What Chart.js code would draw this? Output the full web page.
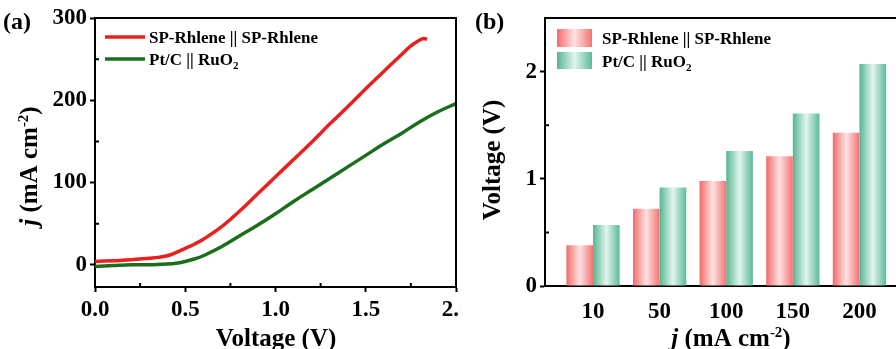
<!DOCTYPE html>
<html>
<head>
<meta charset="utf-8">
<script src="https://cdn.jsdelivr.net/npm/chart.js@4"></script>
<style>
  html, body { margin: 0; padding: 0; background: #fff; }
  #wrap { position: relative; width: 896px; height: 349px; overflow: hidden; }
  #cA { position: absolute; left: 0; top: 0; }
  #cB { position: absolute; left: 460px; top: 0; }
</style>
</head>
<body>
<div id="wrap">
  <canvas id="cA" width="460" height="349"></canvas>
  <canvas id="cB" width="436" height="349"></canvas>
</div>
<script>
// (a) polarisation curves
const voltSP = [0, 0.1, 0.2, 0.3, 0.35, 0.4, 0.45, 0.5, 0.55, 0.6, 0.7, 0.8, 0.9, 1.0, 1.1, 1.2, 1.3, 1.4, 1.5, 1.6, 1.7, 1.75, 1.79, 1.82, 1.84];
const curSP  = [4, 5, 6, 8, 9, 11, 15, 20, 25, 31, 46, 65, 86, 107, 128, 149, 171, 192, 214, 235, 256, 266, 272, 275, 274];
const voltPt = [0, 0.1, 0.2, 0.3, 0.4, 0.45, 0.5, 0.55, 0.6, 0.7, 0.8, 0.9, 1.0, 1.1, 1.2, 1.3, 1.4, 1.5, 1.6, 1.7, 1.8, 1.9, 2.0];
const curPt  = [-2, -1, 0, 0, 1, 2, 4, 7, 11, 22, 35, 48, 62, 77, 91, 105, 119, 133, 147, 160, 174, 186, 196];
const xTicksA = [0, 0.5, 1.0, 1.5, 2.0];
const yTicksA = [0, 100, 200, 300];

// (b) voltage at given current density
const cats = ['10', '50', '100', '150', '200'];
const barSP = [0.38, 0.72, 0.98, 1.21, 1.43];
const barPt = [0.57, 0.92, 1.26, 1.61, 2.07];
const yTicksB = [0, 1, 2];

const names = ['SP-Rhlene || SP-Rhlene', 'Pt/C || RuO'];
const SERIF = '"Liberation Serif", "Times New Roman", serif';
const tickFont = { family: SERIF, size: 23, weight: 'bold' };
const redStops = [[0, '#f26a6a'], [0.5, '#ffe2e2'], [1, '#f37373']];
const greenStops = [[0, '#55b593'], [0.5, '#e2f5ed'], [1, '#5cba99']];

Chart.defaults.color = '#000';
Chart.defaults.font.family = SERIF;

// draw a row of text pieces with different fonts
function richText(ctx, parts, x, y, align) {
  let w = 0;
  parts.forEach(p => { ctx.font = p.f; w += ctx.measureText(p.t).width; });
  let cx = align === 'center' ? x - w / 2 : x;
  ctx.textAlign = 'left';
  ctx.textBaseline = 'alphabetic';
  parts.forEach(p => {
    ctx.font = p.f;
    ctx.fillText(p.t, cx, y + (p.dy || 0));
    cx += ctx.measureText(p.t).width;
  });
}
const B = s => 'bold ' + s + 'px ' + SERIF;
const BI = s => 'italic bold ' + s + 'px ' + SERIF;
const jTitle = [{ t: 'j', f: BI(25) }, { t: ' (mA cm', f: B(25) }, { t: '-2', f: B(15), dy: -9 }, { t: ')', f: B(25) }];

function minorTicks(ctx, scale, vals, horiz, area) {
  ctx.beginPath();
  vals.forEach(v => {
    const p = scale.getPixelForValue(v);
    if (horiz) { ctx.moveTo(p, area.bottom); ctx.lineTo(p, area.bottom - 4); }
    else { ctx.moveTo(area.left, p); ctx.lineTo(area.left + 4, p); }
  });
  ctx.stroke();
}
function mids(arr) { return arr.slice(1).map((v, i) => (v + arr[i]) / 2); }
function fillGrad(ctx, stops, x, y, w, h) {
  const g = ctx.createLinearGradient(x, 0, x + w, 0);
  stops.forEach(([o, c]) => g.addColorStop(o, c));
  ctx.fillStyle = g;
  ctx.fillRect(x, y, w, h);
}
// fixed axis boxes, no extra room for overhanging labels
function fixX(h) { return s => { s.height = h; s.paddingLeft = 0; s.paddingRight = 0; }; }
function fixY(w) { return s => { s.width = w; s.paddingTop = 0; s.paddingBottom = 0; }; }

const decorA = {
  id: 'decorA',
  afterDraw(chart) {
    const { ctx, chartArea: a, scales: { x, y } } = chart;
    ctx.save();
    ctx.strokeStyle = '#000'; ctx.lineWidth = 2;
    ctx.beginPath();
    ctx.moveTo(a.left, a.top); ctx.lineTo(a.right, a.top); ctx.lineTo(a.right, a.bottom);
    ctx.stroke();
    minorTicks(ctx, x, mids(xTicksA), true, a);
    minorTicks(ctx, y, mids(yTicksA), false, a);
    // legend
    ctx.lineWidth = 3.5;
    [['#e8211e', 37], ['#1b6e1b', 59]].forEach(([c, ly]) => {
      ctx.strokeStyle = c;
      ctx.beginPath(); ctx.moveTo(105, ly); ctx.lineTo(145, ly); ctx.stroke();
    });
    ctx.fillStyle = '#000';
    richText(ctx, [{ t: names[0], f: B(17) }], 149, 43);
    richText(ctx, [{ t: names[1], f: B(17) }, { t: '2', f: B(11), dy: 4 }], 149, 65);
    // titles
    richText(ctx, [{ t: '(a)', f: B(24) }], 3, 29);
    richText(ctx, [{ t: 'Voltage (V)', f: B(25) }], 276, 346, 'center');
    ctx.translate(37, 166); ctx.rotate(-Math.PI / 2);
    richText(ctx, jTitle, 0, 0, 'center');
    ctx.restore();
  }
};

new Chart(document.getElementById('cA'), {
  type: 'line',
  data: {
    datasets: [
      { label: names[0], data: voltSP.map((v, i) => ({ x: v, y: curSP[i] })), borderColor: '#e8211e', borderWidth: 3.5, pointRadius: 0, tension: 0.4 },
      { label: names[1], data: voltPt.map((v, i) => ({ x: v, y: curPt[i] })), borderColor: '#1b6e1b', borderWidth: 3.5, pointRadius: 0, tension: 0.4 }
    ]
  },
  options: {
    responsive: false, animation: false,
    layout: { autoPadding: false, padding: { left: 0, top: 18, right: 4, bottom: 0 } },
    plugins: { legend: { display: false }, tooltip: { enabled: false } },
    scales: {
      x: {
        type: 'linear', min: 0, max: 2,
        afterFit: fixX(62),
        afterBuildTicks: s => { s.ticks = xTicksA.map(v => ({ value: v })); },
        border: { display: true, color: '#000', width: 2 },
        grid: { drawOnChartArea: false, tickLength: 5, tickWidth: 2, tickColor: '#000' },
        ticks: { font: tickFont, padding: 4, maxRotation: 0, callback: v => v.toFixed(1) }
      },
      y: {
        type: 'linear', min: -27, max: 300,
        afterFit: fixY(95),
        afterBuildTicks: s => { s.ticks = yTicksA.map(v => ({ value: v })); },
        border: { display: true, color: '#000', width: 2 },
        grid: { drawOnChartArea: false, tickLength: 5, tickWidth: 2, tickColor: '#000' },
        ticks: { font: tickFont, padding: 3 }
      }
    }
  },
  plugins: [decorA]
});

const gradBars = {
  id: 'gradBars',
  beforeDatasetsDraw(chart) {
    const ctx = chart.ctx;
    [redStops, greenStops].forEach((stops, di) => {
      chart.getDatasetMeta(di).data.forEach(bar => {
        const g = ctx.createLinearGradient(bar.x - bar.width / 2, 0, bar.x + bar.width / 2, 0);
        stops.forEach(([o, c]) => g.addColorStop(o, c));
        bar.options = Object.assign({}, bar.options, { backgroundColor: g });
      });
    });
  }
};

const decorB = {
  id: 'decorB',
  afterDraw(chart) {
    const { ctx, chartArea: a, scales: { y } } = chart;
    ctx.save();
    ctx.strokeStyle = '#000'; ctx.lineWidth = 2;
    ctx.beginPath(); ctx.moveTo(a.left, a.top); ctx.lineTo(a.right, a.top); ctx.stroke();
    minorTicks(ctx, y, mids(yTicksB), false, a);
    // legend
    fillGrad(ctx, redStops, 97, 29, 35, 18);
    fillGrad(ctx, greenStops, 97, 52, 35, 17);
    ctx.fillStyle = '#000';
    richText(ctx, [{ t: names[0], f: B(17) }], 142, 44);
    richText(ctx, [{ t: names[1], f: B(17) }, { t: '2', f: B(11), dy: 4 }], 142, 67);
    // titles
    richText(ctx, [{ t: '(b)', f: B(24) }], 15, 29);
    richText(ctx, jTitle, 271, 346, 'center');
    ctx.translate(40, 160); ctx.rotate(-Math.PI / 2);
    richText(ctx, [{ t: 'Voltage (V)', f: B(25) }], 0, 0, 'center');
    ctx.restore();
  }
};

new Chart(document.getElementById('cB'), {
  type: 'bar',
  data: {
    datasets: [
      { label: names[0], data: cats.map((c, i) => ({ x: i + 1, y: barSP[i] })), backgroundColor: '#f47a7a' },
      { label: names[1], data: cats.map((c, i) => ({ x: i + 1, y: barPt[i] })), backgroundColor: '#6cc2a2' }
    ]
  },
  options: {
    responsive: false, animation: false,
    layout: { autoPadding: false, padding: { left: 0, top: 18, right: 0, bottom: 0 } },
    plugins: { legend: { display: false }, tooltip: { enabled: false } },
    datasets: { bar: { barPercentage: 1, categoryPercentage: 0.8, borderWidth: 0 } },
    scales: {
      x: {
        type: 'linear', min: 0.279, max: 5.549, offset: false,
        afterFit: fixX(63),
        afterBuildTicks: s => { s.ticks = cats.map((c, i) => ({ value: i + 1 })); },
        border: { display: true, color: '#000', width: 2 },
        grid: { display: true, drawOnChartArea: false, drawTicks: false, offset: false },
        ticks: { font: tickFont, padding: 12, maxRotation: 0, callback: v => cats[v - 1] }
      },
      y: {
        type: 'linear', min: 0, max: 2.5,
        afterFit: fixY(85),
        afterBuildTicks: s => { s.ticks = yTicksB.map(v => ({ value: v })); },
        border: { display: true, color: '#000', width: 2 },
        grid: { drawOnChartArea: false, tickLength: 5, tickWidth: 2, tickColor: '#000' },
        ticks: { font: tickFont, padding: 3 }
      }
    }
  },
  plugins: [gradBars, decorB]
});
</script>
</body>
</html>
